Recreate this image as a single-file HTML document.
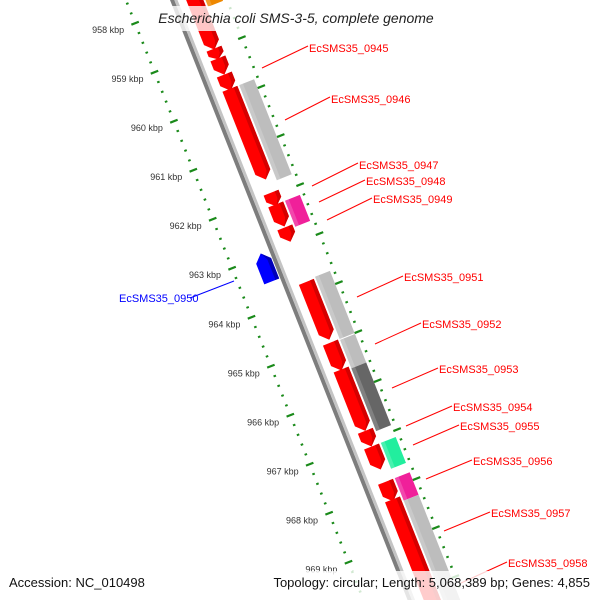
<!DOCTYPE html>
<html><head><meta charset="utf-8"><style>
html,body{margin:0;padding:0;background:#fff;width:600px;height:600px;overflow:hidden;}
svg{display:block;overflow:hidden;font-family:"Liberation Sans","DejaVu Sans",sans-serif;}
</style></head><body>
<svg id="map" width="600" height="600" viewBox="0 0 600 600" xmlns="http://www.w3.org/2000/svg">
<defs><clipPath id="frame"><rect x="0" y="0" width="600" height="600"/></clipPath></defs>
<rect x="0" y="0" width="600" height="600" fill="#fff"/>
<g clip-path="url(#frame)">
<g id="rot" transform="translate(176,7) rotate(-21.6)"></g>
</g>
<g id="ticklabels" font-size="9" fill="#333" text-anchor="end"></g>
<g font-size="11" fill="#f00" stroke-width="1">
<line x1="262" y1="68" x2="308" y2="46" stroke="#f00"/><text x="309" y="52">EcSMS35_0945</text>
<line x1="285" y1="120" x2="330" y2="97" stroke="#f00"/><text x="331" y="103">EcSMS35_0946</text>
<line x1="312" y1="186" x2="358" y2="163" stroke="#f00"/><text x="359" y="169">EcSMS35_0947</text>
<line x1="319" y1="202" x2="365" y2="180" stroke="#f00"/><text x="366" y="185">EcSMS35_0948</text>
<line x1="327" y1="220" x2="372" y2="198" stroke="#f00"/><text x="373" y="203">EcSMS35_0949</text>
<line x1="357" y1="297" x2="403" y2="276" stroke="#f00"/><text x="404" y="281">EcSMS35_0951</text>
<line x1="375" y1="344" x2="421" y2="323" stroke="#f00"/><text x="422" y="328">EcSMS35_0952</text>
<line x1="392" y1="388" x2="438" y2="368" stroke="#f00"/><text x="439" y="373">EcSMS35_0953</text>
<line x1="406" y1="426" x2="452" y2="406" stroke="#f00"/><text x="453" y="411">EcSMS35_0954</text>
<line x1="413" y1="445" x2="459" y2="425" stroke="#f00"/><text x="460" y="430">EcSMS35_0955</text>
<line x1="426" y1="479" x2="472" y2="460" stroke="#f00"/><text x="473" y="465">EcSMS35_0956</text>
<line x1="444" y1="531" x2="490" y2="512" stroke="#f00"/><text x="491" y="517">EcSMS35_0957</text>
<line x1="461" y1="583" x2="507" y2="562" stroke="#f00"/><text x="508" y="567">EcSMS35_0958</text>
<line x1="190" y1="298" x2="234" y2="281" stroke="#00f"/><text x="119" y="302" fill="#00f">EcSMS35_0950</text>
</g>
<rect x="140" y="6" width="320" height="25" fill="#fff" fill-opacity="0.78"/>
<text x="296" y="23" font-size="14" font-style="italic" fill="#222" text-anchor="middle">Escherichia coli SMS-3-5, complete genome</text>
<rect x="0" y="571" width="600" height="29" fill="#fff" fill-opacity="0.8"/>
<text x="9" y="587" font-size="13" fill="#111">Accession: NC_010498</text>
<text x="590" y="587" font-size="13" fill="#111" text-anchor="end">Topology: circular; Length: 5,068,389 bp; Genes: 4,855</text>
</svg>
<script>
const fwdStart = [956.5,959.0,959.2,959.53,959.82,961.94,962.18,962.65,963.76,965.0,965.55,966.8,967.12,967.84,968.2];
const fwdEnd   = [959.02,959.22,959.53,959.86,961.67,962.22,962.63,962.94,964.94,965.57,966.8,967.12,967.59,968.24,970.6];
const revStart = [962.94];
const revEnd   = [963.51];
const hitStart = [956.0,959.82,962.18,963.73,965.02,965.6,967.12,967.84,968.3];
const hitEnd   = [958.22,961.76,962.71,965.0,965.6,966.88,967.65,968.3,971.0];
const hitColor = ["#ee8800","#bdbdbd","#f0209a","#bdbdbd","#bdbdbd","#666666","#22ee9e","#f0209a","#bdbdbd"];
const tickMin = 957.4, tickMax = 970.2, tickStep = 0.2;

const NS="http://www.w3.org/2000/svg";
const K0=958, PX=52.7, C=0.930, S=0.368, OX=176, OY=7;
function u(k){return (k-K0)*PX;}
function scr(lx,lu){return [OX+lx*C+lu*S, OY-lx*S+lu*C];}
const g=document.getElementById('rot');
const tl=document.getElementById('ticklabels');
function mk(tag,attrs,parent){const e=document.createElementNS(NS,tag);for(const k in attrs)e.setAttribute(k,attrs[k]);(parent||g).appendChild(e);return e;}

let bb=mk('rect',{x:-3,y:-60,width:4,height:720,fill:'#7d7d7d'});


let bb2=mk('rect',{x:1,y:-60,width:3,height:720,fill:'#c4c4c4'});



const nT=Math.round((tickMax-tickMin)/tickStep);
for(let i=0;i<=nT;i++){
  const k=tickMin+i*tickStep, y=u(k);
  const major=Math.abs(k-Math.round(k))<0.01;
  const len=major?4:1.3;
  [-44,50].forEach(function(r,ri){
    const t=mk('line',{x1:r-len,x2:r+len,y1:y,y2:y,stroke:'#1a8a1a','stroke-width':major?2.2:2});
    
    
  });
  if(major){
    const p=scr(-44,y);
    if(p[1]<600){
      const tx=mk('text',{x:(p[0]-11).toFixed(1),y:(p[1]+10).toFixed(1)},tl);
      tx.textContent=Math.round(k)+' kbp';
      
      
    }
  }
}

for(let i=0;i<hitStart.length;i++){
  const y1=u(hitStart[i]), y2=u(hitEnd[i]);
  const r=mk('rect',{x:30,y:y1,width:16,height:y2-y1,fill:hitColor[i]});
  
  
  const s=mk('rect',{x:30,y:y1,width:4,height:y2-y1,fill:'#fff','fill-opacity':0.18});
  
  
}

for(let i=0;i<fwdStart.length;i++){
  const y1=u(fwdStart[i]), y2=u(fwdEnd[i]);
  const h=Math.min(8,(y2-y1)*0.5);
  const pts=[[12,y1],[28,y1],[28,y2-h],[20,y2],[12,y2-h]].map(p=>p.join(',')).join(' ');
  const a=mk('polygon',{points:pts,fill:'#ff0000'});
  
  
  const sp=[[24,y1],[28,y1],[28,y2-h],[20,y2],[22,y2-h*0.5],[24,y2-h]].map(p=>p.join(',')).join(' ');
  const s=mk('polygon',{points:sp,fill:'#d40000'});
  
  
}

for(let i=0;i<revStart.length;i++){
  const y1=u(revStart[i]), y2=u(revEnd[i]);
  const h=Math.min(8,(y2-y1)*0.5);
  const pts=[[-12,y1],[-4,y1+h],[-4,y2],[-20,y2],[-20,y1+h]].map(p=>p.join(',')).join(' ');
  const a=mk('polygon',{points:pts,fill:'#0000ff'});
  
  
  const s=mk('polygon',{points:[[-12,y1],[-4,y1+h],[-4,y2],[-8,y2],[-8,y1+h]].map(p=>p.join(',')).join(' '),fill:'#0000b8'});
  
  
}
</script>
</body></html>
